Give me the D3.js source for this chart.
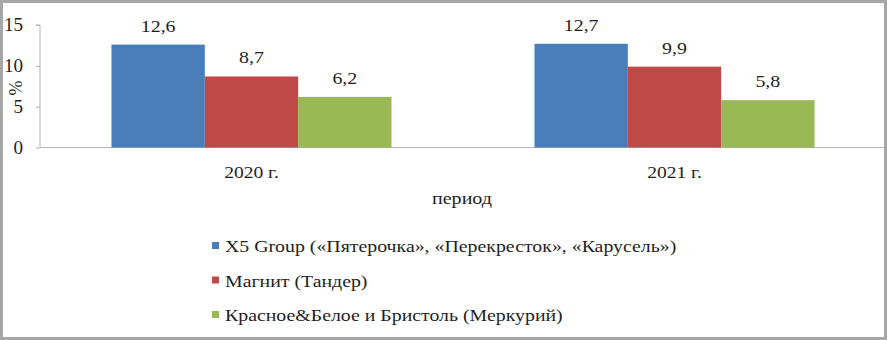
<!DOCTYPE html>
<html><head><meta charset="utf-8">
<script src="https://cdn.jsdelivr.net/npm/d3@7"></script>
<style>html,body{margin:0;padding:0;background:#fff}svg{display:block}</style>
</head><body>
<script>
const categories = ["2020 г.", "2021 г."];
const seriesNames = ["X5 Group («Пятерочка», «Перекресток», «Карусель»)", "Магнит (Тандер)", "Красное&Белое и Бристоль  (Меркурий)"];
const x5Values = [12.6, 12.7];
const magnitValues = [8.7, 9.9];
const kbValues = [6.2, 5.8];
const colors = ["#4a7ebb", "#be4b48", "#98b954"];
const yTicks = [0, 5, 10, 15];
const seriesValues = [x5Values, magnitValues, kbValues];

const FONT = "Liberation Serif";
const TXT = "#1f1f1f";
const W = 887, H = 340;
const svg = d3.select("body").append("svg").attr("width", W).attr("height", H)
  .style("font-family", FONT);
svg.append("rect").attr("x",1.5).attr("y",1.5).attr("width",W-3).attr("height",H-3)
  .attr("fill","#fff").attr("stroke","#a6a6a6").attr("stroke-width",3);

const y = d3.scaleLinear().domain([0,15]).range([147.5, 25]);
const x0 = d3.scaleBand().domain(categories).range([40, 886]).paddingInner(0.338).paddingOuter(0.169);
const x1 = d3.scaleBand().domain(d3.range(3)).range([0, x0.bandwidth()]);

// y axis
const sy = 1.06;
const gy = svg.append("g").attr("transform","translate(40,0)")
  .call(d3.axisLeft(y).tickValues(yTicks).tickSize(4).tickFormat(d3.format("d")));
gy.attr("font-family", FONT);
gy.select(".domain").attr("stroke","#b3b3b3").attr("d","M-4,"+y(15)+"H0V"+y(0));
gy.selectAll(".tick line").attr("stroke","#b3b3b3");
gy.selectAll(".tick text").attr("x",-17/sy).attr("transform","scale("+sy+",1)")
  .style("font-size","18px").style("font-family",FONT).attr("fill",TXT);

// x axis
const sx = 1.15;
const gx = svg.append("g").attr("transform","translate(0,"+y(0)+")")
  .call(d3.axisBottom(x0).tickSize(0).tickPadding(18));
gx.attr("font-family", FONT);
gx.select(".domain").attr("stroke","#b3b3b3").attr("d","M40,0H884");
gx.selectAll(".tick text").attr("transform","scale("+sx+",1)")
  .style("font-size","17px").style("font-family",FONT).attr("fill",TXT);

// bars
const groups = svg.append("g").selectAll("g").data(categories).join("g")
  .attr("transform", d => "translate("+x0(d)+",0)");
const cells = (d,i) => seriesValues.map((s,k) => ({k, v:s[i]}));
groups.selectAll("rect").data(cells).join("rect")
  .attr("x", d => x1(d.k)).attr("width", x1.bandwidth())
  .attr("y", d => y(d.v)).attr("height", d => y(0)-y(d.v))
  .attr("fill", d => colors[d.k]);
groups.selectAll("text.lbl").data(cells).join("text")
  .attr("class","lbl")
  .attr("transform", d => "translate("+(x1(d.k)+x1.bandwidth()/2)+","+(y(d.v)-13)+") scale(1.17,1)")
  .attr("text-anchor","middle").style("font-size","17px").attr("fill",TXT)
  .text(d => String(d.v).replace(".", ","));

// axis titles
svg.append("text").attr("transform","translate(22,88) rotate(-90)").attr("text-anchor","middle")
  .style("font-size","18px").attr("fill",TXT).text("%");
svg.append("text").attr("transform","translate(462,204) scale(1.18,1)").attr("text-anchor","middle")
  .style("font-size","17px").attr("fill",TXT).text("период");

// legend
const lg = svg.append("g").selectAll("g").data(seriesNames).join("g")
  .attr("transform",(d,i)=>"translate(212,"+(245.5+i*34.5)+")");
lg.append("rect").attr("x",0).attr("y",-3.5).attr("width",7).attr("height",7).attr("fill",(d,i)=>colors[i]);
lg.append("text").attr("transform","translate(13,6.5) scale(1.24,1)")
  .style("font-size","16px").attr("fill",TXT).text(d=>d);
</script>
</body></html>
